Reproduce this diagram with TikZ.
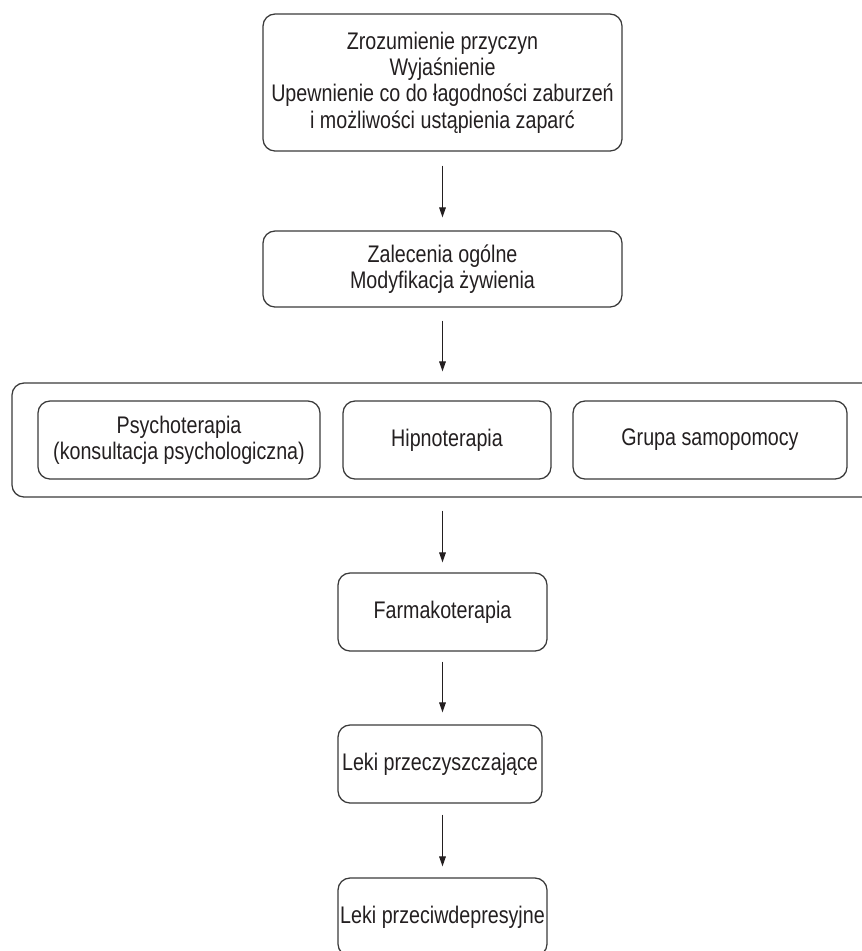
\documentclass[tikz,border=0pt]{standalone}
\usepackage{fontspec}
\setmainfont[FakeStretch=0.82]{Liberation Sans}
\usetikzlibrary{arrows.meta,calc}
\definecolor{ink}{HTML}{231F20}
\definecolor{edge}{HTML}{3A3A3A}
\begin{document}
\begin{tikzpicture}[x=0.75pt,y=-0.75pt,
  box/.style={draw=edge,line width=0.95pt,rounded corners=9pt,align=center,
    text=ink,font=\fontsize{18}{19.8}\selectfont,inner sep=0pt},
  arr/.style={draw=ink,line width=0.8pt,-{Triangle[length=7.5pt,width=5pt]}}]
\clip (0,0) rectangle (862,951);
\node[box,minimum width=269.25pt,minimum height=102.75pt] (top) at (442.5,82.5)
  {Zrozumienie przyczyn\\Wyjaśnienie\\Upewnienie co do łagodności zaburzeń\\i możliwości ustąpienia zaparć};
\node[box,minimum width=269.25pt,minimum height=57pt] (gen) at (442.5,269)
  {Zalecenia ogólne\\Modyfikacja żywienia};
\node[box,minimum width=651pt,minimum height=85.5pt] (grp) at (446,440) {};
\node[box,minimum width=211.5pt,minimum height=58.5pt] (psy) at (179,440)
  {Psychoterapia\\(konsultacja psychologiczna)};
\node[box,minimum width=156pt,minimum height=58.5pt] (hip) at (447,440) {Hipnoterapia};
\node[box,minimum width=205.5pt,minimum height=58.5pt] (sam) at (710,440) {Grupa samopomocy};
\node[box,minimum width=156.75pt,minimum height=58.5pt] (far) at (442.5,612) {Farmakoterapia};
\node[box,minimum width=153pt,minimum height=58.5pt] (lp) at (440,764) {Leki przeczyszczające};
\node[box,minimum width=156.75pt,minimum height=58.5pt] (ld) at (442.5,917) {Leki przeciwdepresyjne};
\draw[arr] ($(top.south)+(0,14)$) -- ($(top.south |- gen.north)+(0,-13)$);
\draw[arr] ($(gen.south)+(0,13)$) -- ($(gen.south |- grp.north)+(0,-11)$);
\draw[arr] ($(top.south |- grp.south)+(0,13)$) -- ($(top.south |- far.north)+(0,-10)$);
\draw[arr] ($(far.south)+(0,10)$) -- ($(far.south |- lp.north)+(0,-12)$);
\draw[arr] ($(far.south |- lp.south)+(0,11)$) -- ($(far.south |- ld.north)+(0,-11)$);
\end{tikzpicture}
\end{document}
